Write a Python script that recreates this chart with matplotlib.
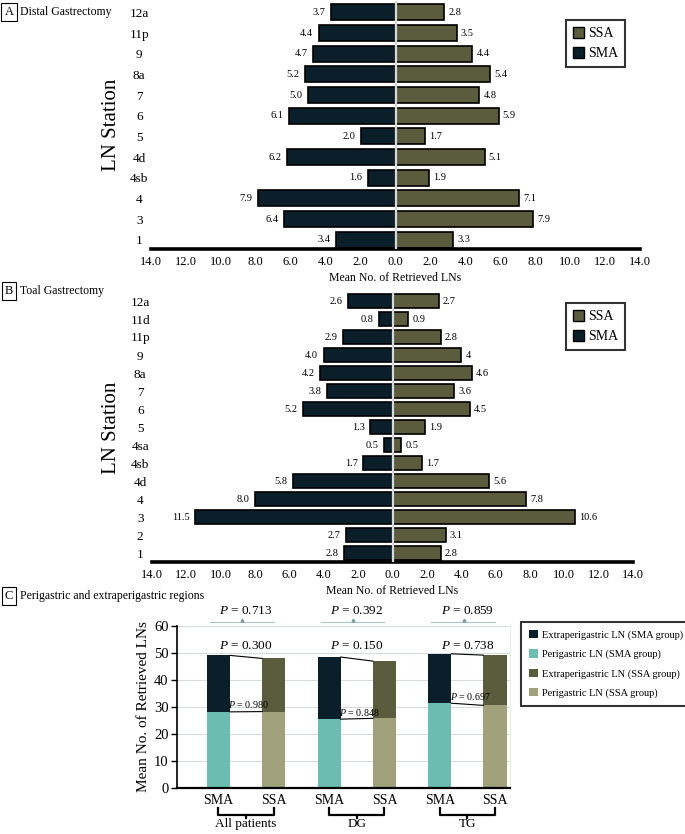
import matplotlib
matplotlib.use("Agg")
import matplotlib.pyplot as plt
from matplotlib.patches import Patch
import matplotlib.transforms as mtrans

plt.rcParams['font.family'] = ['Liberation Serif', 'DejaVu Serif']
plt.rcParams['mathtext.fontset'] = 'custom'
plt.rcParams['mathtext.it'] = 'Liberation Serif:italic'
plt.rcParams['mathtext.rm'] = 'Liberation Serif'

# ---------------- Data ----------------
# Panel A: Distal gastrectomy (bottom -> top)
a_stations = ["1", "3", "4", "4sb", "4d", "5", "6", "7", "8a", "9", "11p", "12a"]
a_sma = [3.4, 6.4, 7.9, 1.6, 6.2, 2.0, 6.1, 5.0, 5.2, 4.7, 4.4, 3.7]
a_ssa = [3.3, 7.9, 7.1, 1.9, 5.1, 1.7, 5.9, 4.8, 5.4, 4.4, 3.5, 2.8]
a_sma_labels = ["3.4", "6.4", "7.9", "1.6", "6.2", "2.0", "6.1", "5.0", "5.2", "4.7", "4.4", "3.7"]
a_ssa_labels = ["3.3", "7.9", "7.1", "1.9", "5.1", "1.7", "5.9", "4.8", "5.4", "4.4", "3.5", "2.8"]

# Panel B: Total gastrectomy (bottom -> top)
b_stations = ["1", "2", "3", "4", "4d", "4sb", "4sa", "5", "6", "7", "8a", "9", "11p", "11d", "12a"]
b_sma = [2.8, 2.7, 11.5, 8.0, 5.8, 1.7, 0.5, 1.3, 5.2, 3.8, 4.2, 4.0, 2.9, 0.8, 2.6]
b_ssa = [2.8, 3.1, 10.6, 7.8, 5.6, 1.7, 0.5, 1.9, 4.5, 3.6, 4.6, 4.0, 2.8, 0.9, 2.7]
b_sma_labels = ["2.8", "2.7", "11.5", "8.0", "5.8", "1.7", "0.5", "1.3", "5.2", "3.8", "4.2", "4.0", "2.9", "0.8", "2.6"]
b_ssa_labels = ["2.8", "3.1", "10.6", "7.8", "5.6", "1.7", "0.5", "1.9", "4.5", "3.6", "4.6", "4", "2.8", "0.9", "2.7"]

xticks_vals = [-14, -12, -10, -8, -6, -4, -2, 0, 2, 4, 6, 8, 10, 12, 14]

# Panel C
c_groups = ["All patients", "DG", "TG"]
c_bar_labels = ["SMA", "SSA", "SMA", "SSA", "SMA", "SSA"]
c_sma_peri = [28.2, 25.5, 31.4]
c_sma_extra = [20.9, 23.0, 18.3]
c_ssa_peri = [28.3, 25.8, 30.6]
c_ssa_extra = [19.7, 21.2, 18.6]
c_p_total_group = ["0.713", "0.392", "0.859"]
c_p_total = ["0.300", "0.150", "0.738"]
c_p_peri = ["0.980", "0.848", "0.697"]

SMA_C = "#0b1f2b"
SSA_C = "#5b5b3d"
SMA_PERI = "#6cbcb2"
SSA_PERI = "#a0a07a"

W, H = 685, 834
fig = plt.figure(figsize=(W / 100, H / 100), dpi=100)


def ax_px(left, top, right, bottom):
    return fig.add_axes([left / W, 1 - bottom / H, (right - left) / W, (bottom - top) / H])


def panel_label(letter, title, y):
    fig.text(9 / W, 1 - y / H, letter, fontsize=9, ha='center', va='center',
             bbox=dict(boxstyle='square,pad=0.25', fc='white', ec='black', lw=0.8))
    fig.text(20 / W, 1 - y / H, title, fontsize=8.5, ha='left', va='center')


def butterfly(ax, stations, sma, ssa, sma_lab, ssa_lab, ylo, yhi, bh):
    y = list(range(len(stations)))
    ax.barh(y, [-v for v in sma], height=bh, color=SMA_C, edgecolor='black', lw=1.2, zorder=2)
    ax.barh(y, ssa, height=bh, color=SSA_C, edgecolor='black', lw=1.2, zorder=2)
    ax.axvline(0, color='#d8d8d8', lw=1.6, zorder=3)
    for yi, v, lab in zip(y, sma, sma_lab):
        ax.annotate(lab, (-v, yi), xytext=(-4, 0), textcoords='offset points',
                    ha='right', va='center', fontsize=7.5)
    for yi, v, lab in zip(y, ssa, ssa_lab):
        ax.annotate(lab, (v, yi), xytext=(3, 0), textcoords='offset points',
                    ha='left', va='center', fontsize=7.5)
    ax.set_xlim(-14, 14)
    ax.set_ylim(ylo, yhi)
    ax.set_yticks(y)
    ax.set_yticklabels(stations, fontsize=9.5, ha='center')
    ax.set_xticks(xticks_vals)
    ax.set_xticklabels([f"{abs(v):.1f}" for v in xticks_vals], fontsize=9)
    ax.tick_params(length=0, pad=5)
    ax.tick_params(axis='y', pad=8.5)
    for s in ['top', 'right', 'left']:
        ax.spines[s].set_visible(False)
    ax.spines['bottom'].set_linewidth(2.6)
    ax.set_xlabel("Mean No. of Retrieved LNs", fontsize=8.5, labelpad=3)
    leg = ax.legend(handles=[Patch(fc=SSA_C, ec='black', lw=1, label='SSA'),
                             Patch(fc=SMA_C, ec='black', lw=1, label='SMA')],
                    loc='upper left', fontsize=10, frameon=True, fancybox=False,
                    handlelength=0.8, handleheight=0.8, handletextpad=0.3,
                    borderpad=0.5, labelspacing=0.5, borderaxespad=0)
    leg.get_frame().set_edgecolor('black')
    leg.get_frame().set_linewidth(1.5)
    return ax, leg


# Panel A
panel_label("A", "Distal Gastrectomy", 12)
axA = ax_px(151, 1, 640, 249)
_, legA = butterfly(axA, a_stations, a_sma, a_ssa, a_sma_labels, a_ssa_labels, -0.45, 11.55, 0.78)
legA.set_bbox_to_anchor((566 / W, 1 - 20 / H), transform=fig.transFigure)
fig.text(111 / W, 1 - 125 / H, "LN Station", fontsize=15, rotation=90, ha='center', va='center')

# Panel B
panel_label("B", "Toal Gastrectomy", 291)
axB = ax_px(152, 292, 633, 562)
_, legB = butterfly(axB, b_stations, b_sma, b_ssa, b_sma_labels, b_ssa_labels, -0.5, 14.5, 0.8)
legB.set_bbox_to_anchor((566 / W, 1 - 303 / H), transform=fig.transFigure)
fig.text(111 / W, 1 - 428 / H, "LN Station", fontsize=15, rotation=90, ha='center', va='center')

# Panel C
panel_label("C", "Perigastric and extraperigastric regions", 596)
axC = ax_px(177, 626, 510, 788)
bw = 0.42
pos_sma = [0, 2, 4]
pos_ssa = [1, 3, 5]
axC.bar(pos_sma, c_sma_peri, width=bw, color=SMA_PERI, zorder=2)
axC.bar(pos_sma, c_sma_extra, bottom=c_sma_peri, width=bw, color=SMA_C, zorder=2)
axC.bar(pos_ssa, c_ssa_peri, width=bw, color=SSA_PERI, zorder=2)
axC.bar(pos_ssa, c_ssa_extra, bottom=c_ssa_peri, width=bw, color=SSA_C, zorder=2)
axC.set_xlim(-0.75, 5.27)
axC.set_ylim(0, 60)
axC.set_yticks([0, 10, 20, 30, 40, 50, 60])
axC.tick_params(axis='y', labelsize=10.5, direction='out', length=4, width=1, pad=2)
axC.set_xticks(pos_sma + pos_ssa)
axC.set_xticklabels(["SMA"] * 3 + ["SSA"] * 3, fontsize=10)
axC.tick_params(axis='x', length=0, pad=4)
axC.grid(axis='y', color='#d6dcdc', lw=0.8, zorder=0)
axC.set_axisbelow(True)
axC.spines['top'].set_visible(False)
axC.spines['right'].set_color('#e6f0e2')
axC.spines['left'].set_linewidth(1.2)
axC.spines['bottom'].set_linewidth(1.6)
axC.set_ylabel("Mean No. of Retrieved LNs", fontsize=11, labelpad=3)

blend = mtrans.blended_transform_factory(axC.transData, axC.transAxes)
for i in range(3):
    c0, c1 = pos_sma[i], pos_ssa[i]
    tot0 = c_sma_peri[i] + c_sma_extra[i]
    tot1 = c_ssa_peri[i] + c_ssa_extra[i]
    # connecting lines
    axC.plot([c0 + bw / 2, c1 - bw / 2], [tot0, tot1], color='black', lw=0.8, zorder=3)
    axC.plot([c0 + bw / 2, c1 - bw / 2], [c_sma_peri[i], c_ssa_peri[i]], color='black', lw=0.8, zorder=3)
    mid = (c0 + c1) / 2
    axC.text(mid, 52.6, f"$P$ = {c_p_total[i]}", fontsize=9.5, ha='center', va='center', zorder=4)
    axC.text(c0 + bw / 2 - 0.03, c_sma_peri[i] + 2.6, f"$P$ = {c_p_peri[i]}", fontsize=7.2,
             ha='left', va='center', zorder=4)
    # group-level p bar above axes
    axC.plot([c0 - 0.15, c1 + 0.0], [1.025, 1.025], transform=blend, color='#a9c6c9', lw=0.8, clip_on=False)
    axC.plot([mid - 0.07], [1.04], transform=blend, marker='^', ms=2, color='#7a9aa0', clip_on=False)
    axC.text(mid, 1.09, f"$P$ = {c_p_total_group[i]}", transform=blend, fontsize=9.5,
             ha='center', va='center')
    # bracket
    axC.plot([c0, c0, c1, c1], [-0.125, -0.167, -0.167, -0.125], transform=blend,
             color='black', lw=1.6, clip_on=False, solid_joinstyle='round')
    axC.plot([mid, mid], [-0.167, -0.185], transform=blend, color='black', lw=1.6, clip_on=False)
    axC.text(mid, -0.225, c_groups[i], transform=blend, fontsize=9.5, ha='center', va='center')

legC = axC.legend(handles=[Patch(fc=SMA_C, label='Extraperigastric LN (SMA group)'),
                           Patch(fc=SMA_PERI, label='Perigastric LN (SMA group)'),
                           Patch(fc=SSA_C, label='Extraperigastric LN (SSA group)'),
                           Patch(fc=SSA_PERI, label='Perigastric LN (SSA group)')],
                  loc='upper left', bbox_to_anchor=(521 / W, 1 - 622 / H),
                  bbox_transform=fig.transFigure, fontsize=7.5, frameon=True, fancybox=False,
                  handlelength=0.85, handleheight=0.85, handletextpad=0.4,
                  borderpad=0.75, labelspacing=0.9, borderaxespad=0)
legC.get_frame().set_edgecolor('black')
legC.get_frame().set_linewidth(1.5)

fig.savefig("out.png", dpi=100)
